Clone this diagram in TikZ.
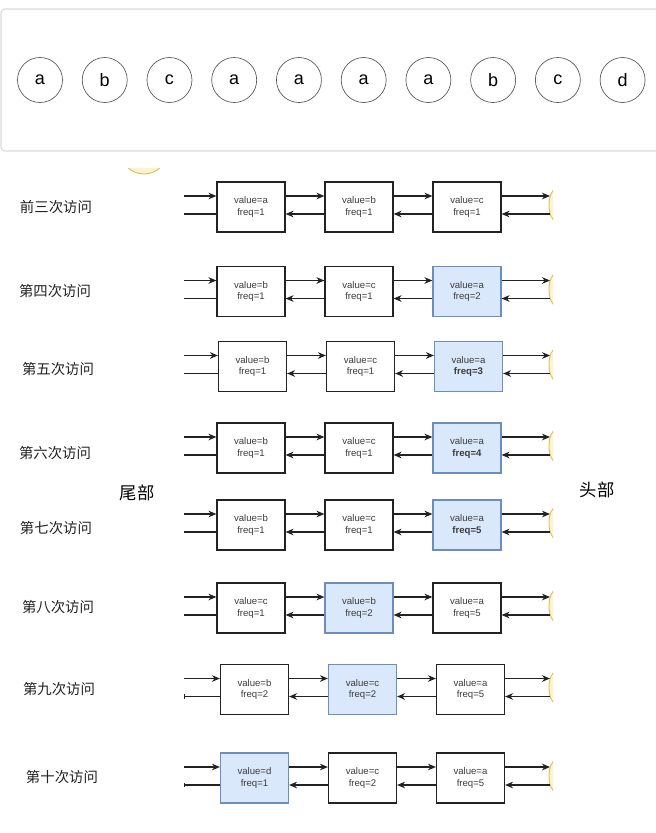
\documentclass[tikz,border=0pt]{standalone}
\usepackage{fontspec}
\setmainfont{Liberation Sans}
\newfontfamily\lfcjk{Noto Sans CJK SC}
\usetikzlibrary{arrows.meta,positioning}
\definecolor{lfink}{RGB}{34,34,34}
\definecolor{lftext}{RGB}{60,60,60}
\definecolor{lfframe}{RGB}{218,218,218}
\definecolor{lfcircle}{RGB}{85,85,85}
\definecolor{lfblue}{RGB}{108,142,191}
\definecolor{lflightblue}{RGB}{218,232,252}
\definecolor{lfsun}{RGB}{224,190,90}
\definecolor{lflightsun}{RGB}{255,242,204}
\tikzset{
  lfvisit/.style={draw=lfcircle, line width=0.5pt, circle, minimum size=33.75pt, inner sep=0pt, font=\fontsize{13.5}{16}\selectfont},
  lfbox/.style={draw=lfink, line width=0.9pt, fill=white, minimum width=51pt, minimum height=37.5pt, align=center, inner sep=1pt, text=lftext, font=\fontsize{7.2}{8.6}\selectfont},
  lfhot/.style={lfbox, draw=lfblue, fill=lflightblue},
  lfarr/.style={-{Stealth[length=6pt,width=5pt]}, line width=0.8pt, draw=lfink},
  lfline/.style={-, line width=0.8pt, draw=lfink},
  lfbar/.style={-{Bar[width=3.5pt]}, line width=0.8pt, draw=lfink},
  lfup/.style={yshift=8.25pt},
  lfdown/.style={yshift=-5.25pt},
  lfrowlab/.style={font=\lfcjk\fontsize{10.8}{13}\selectfont, text=lfink},
  lfside/.style={font=\lfcjk\fontsize{13}{15}\selectfont, text=black},
  lfedge/.style={draw=lfsun, fill=lflightsun, line width=0.7pt}
}

\begin{document}
\begin{tikzpicture}[x=0.75pt, y=-0.75pt, node distance=14.3pt]
  \useasboundingbox (0,0) rectangle (656,833);
  % access sequence
  \draw[lfframe, line width=0.8pt, rounded corners=3pt] (1,9) rectangle (670,151);
  \node[lfvisit] (v1) at (40,80) {a};
  \node[lfvisit, right=of v1] (v2) {b};
  \node[lfvisit, right=of v2] (v3) {c};
  \node[lfvisit, right=of v3] (v4) {a};
  \node[lfvisit, right=of v4] (v5) {a};
  \node[lfvisit, right=of v5] (v6) {a};
  \node[lfvisit, right=of v6] (v7) {a};
  \node[lfvisit, right=of v7] (v8) {b};
  \node[lfvisit, right=of v8] (v9) {c};
  \node[lfvisit, right=of v9] (v10) {d};

  \begin{scope}
    \clip (122,168) rectangle (166,176);
    \draw[lfedge] (144,150) circle [radius=24];
  \end{scope}

  % list after each access
  \foreach \r/\ry/\ly/\lx/\dx/\tip/\sa/\va/\fa/\sb/\vb/\fb/\sc/\vc/\fc/\lab in {
    1/207/207/56/0/lfline/lfbox/value=a/freq=1/lfbox/value=b/freq=1/lfbox/value=c/freq=1/前三次访问,
    2/291.5/291/55/0/lfline/lfbox/value=b/freq=1/lfbox/value=c/freq=1/lfhot/value=a/freq=2/第四次访问,
    3/366.5/369/58/1.5/lfline/lfbox/value=b/freq=1/lfbox/value=c/freq=1/lfhot/value=a/{\textbf{freq=3}}/第五次访问,
    4/448/453/55/0/lfline/lfbox/value=b/freq=1/lfbox/value=c/freq=1/lfhot/value=a/{\textbf{freq=4}}/第六次访问,
    5/525/528/56/0/lfline/lfbox/value=b/freq=1/lfbox/value=c/freq=1/lfhot/value=a/{\textbf{freq=5}}/第七次访问,
    6/608/607/58/0/lfline/lfbox/value=c/freq=1/lfhot/value=b/freq=2/lfbox/value=a/freq=5/第八次访问,
    7/689.5/689/59/3.5/lfbar/lfbox/value=b/freq=2/lfhot/value=c/freq=2/lfbox/value=a/freq=5/第九次访问,
    8/778/777/62/3.5/lfbar/lfhot/value=d/freq=1/lfbox/value=c/freq=2/lfbox/value=a/freq=5/第十次访问}
  {
    \node[lfrowlab] (lab\r) at (\lx,\ly) {\lab};
    \node[\sa] (n\r-1) at (251+\dx,\ry) {\va\\\fa};
    \node[\sb] (n\r-2) at (359+\dx,\ry) {\vb\\\fb};
    \node[\sc] (n\r-3) at (467+\dx,\ry) {\vc\\\fc};
    \coordinate (tail\r) at (184,\ry);
    \coordinate (head\r) at (550,\ry);
    \begin{scope}
      \clip (547,\ry-22) rectangle (553,\ry+18);
      \draw[lfedge] (556,\ry-2) ellipse [x radius=7, y radius=16];
    \end{scope}
    \draw[lfarr] ([lfup]tail\r) -- ([lfup]n\r-1.west);
    \draw[lfarr] ([lfup]n\r-1.east) -- ([lfup]n\r-2.west);
    \draw[lfarr] ([lfup]n\r-2.east) -- ([lfup]n\r-3.west);
    \draw[lfarr] ([lfup]n\r-3.east) -- ([lfup]head\r);
    \draw[lfarr] ([lfdown]head\r) -- ([lfdown]n\r-3.east);
    \draw[lfarr] ([lfdown]n\r-3.west) -- ([lfdown]n\r-2.east);
    \draw[lfarr] ([lfdown]n\r-2.west) -- ([lfdown]n\r-1.east);
    \draw[\tip] ([lfdown]n\r-1.west) -- ([lfdown]tail\r);
  }

  \node[lfside] (tailtag) at (137,493) {尾部};
  \node[lfside] (headtag) at (597,490) {头部};
\end{tikzpicture}
\end{document}
